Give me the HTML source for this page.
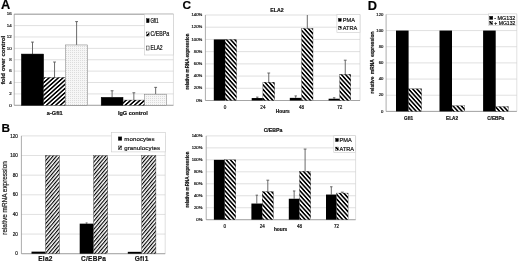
<!DOCTYPE html>
<html><head><meta charset="utf-8"><title>Figure</title>
<style>
html,body{margin:0;padding:0;background:#fff;}
body{width:520px;height:262px;overflow:hidden;font-family:"Liberation Sans",sans-serif;}
svg{display:block;font-family:"Liberation Sans",sans-serif;filter:blur(0.5px);}
text{stroke:#1a1a1a;stroke-width:0.2px;}
</style></head><body>
<svg width="520" height="262" viewBox="0 0 520 262">
<defs>
<pattern id="hA" width="3.1" height="3.1" patternUnits="userSpaceOnUse" patternTransform="rotate(-42)"><rect width="3.1" height="3.1" fill="#fff"/><rect width="3.1" height="1.55" fill="#000"/></pattern>
<pattern id="hB" width="2.7" height="2.7" patternUnits="userSpaceOnUse" patternTransform="rotate(-50)"><rect width="2.7" height="2.7" fill="#fff"/><rect width="2.7" height="1.13" fill="#000"/></pattern>
<pattern id="hC" width="3.1" height="3.1" patternUnits="userSpaceOnUse" patternTransform="rotate(48)"><rect width="3.1" height="3.1" fill="#fff"/><rect width="3.1" height="1.61" fill="#000"/></pattern>
<pattern id="dA" width="2" height="2" patternUnits="userSpaceOnUse"><rect width="2" height="2" fill="#f6f6f6"/><rect width="1" height="1" fill="#dcdcdc"/></pattern>
</defs>
<rect width="520" height="262" fill="#fff"/>

<text x="1.0" y="9.0" font-size="12.8" font-weight="bold" text-anchor="start" fill="#000" >A</text>
<text x="1.5" y="132.0" font-size="11.8" font-weight="bold" text-anchor="start" fill="#000" >B</text>
<text x="182.5" y="8.9" font-size="11.8" font-weight="bold" text-anchor="start" fill="#000" >C</text>
<text x="367.7" y="9.8" font-size="12.8" font-weight="bold" text-anchor="start" fill="#000" >D</text>
<line x1="14.20" y1="14.20" x2="173.40" y2="14.20" stroke="#cbcbcb" stroke-width="0.6"/>
<line x1="14.20" y1="25.59" x2="173.40" y2="25.59" stroke="#cbcbcb" stroke-width="0.6"/>
<line x1="14.20" y1="36.97" x2="173.40" y2="36.97" stroke="#cbcbcb" stroke-width="0.6"/>
<line x1="14.20" y1="48.36" x2="173.40" y2="48.36" stroke="#cbcbcb" stroke-width="0.6"/>
<line x1="14.20" y1="59.75" x2="173.40" y2="59.75" stroke="#cbcbcb" stroke-width="0.6"/>
<line x1="14.20" y1="71.14" x2="173.40" y2="71.14" stroke="#cbcbcb" stroke-width="0.6"/>
<line x1="14.20" y1="82.52" x2="173.40" y2="82.52" stroke="#cbcbcb" stroke-width="0.6"/>
<line x1="14.20" y1="93.91" x2="173.40" y2="93.91" stroke="#cbcbcb" stroke-width="0.6"/>
<line x1="14.20" y1="105.30" x2="173.40" y2="105.30" stroke="#cbcbcb" stroke-width="0.6"/>
<line x1="14.20" y1="14.20" x2="14.20" y2="105.30" stroke="#8a8a8a" stroke-width="0.7"/>
<line x1="173.40" y1="14.20" x2="173.40" y2="105.30" stroke="#cbcbcb" stroke-width="0.6"/>
<line x1="14.20" y1="105.30" x2="173.40" y2="105.30" stroke="#8a8a8a" stroke-width="0.7"/>
<line x1="14.20" y1="14.20" x2="173.40" y2="14.20" stroke="#8a8a8a" stroke-width="0.8"/>
<text x="11.6" y="15.399999999999999" font-size="4.4" font-weight="normal" text-anchor="end" fill="#222" >16</text>
<text x="11.6" y="26.787499999999998" font-size="4.4" font-weight="normal" text-anchor="end" fill="#222" >14</text>
<text x="11.6" y="38.175" font-size="4.4" font-weight="normal" text-anchor="end" fill="#222" >12</text>
<text x="11.6" y="49.5625" font-size="4.4" font-weight="normal" text-anchor="end" fill="#222" >10</text>
<text x="11.6" y="60.95" font-size="4.4" font-weight="normal" text-anchor="end" fill="#222" >8</text>
<text x="11.6" y="72.3375" font-size="4.4" font-weight="normal" text-anchor="end" fill="#222" >6</text>
<text x="11.6" y="83.725" font-size="4.4" font-weight="normal" text-anchor="end" fill="#222" >4</text>
<text x="11.6" y="95.1125" font-size="4.4" font-weight="normal" text-anchor="end" fill="#222" >2</text>
<text x="11.6" y="106.5" font-size="4.4" font-weight="normal" text-anchor="end" fill="#222" >0</text>
<text x="5.0" y="60" font-size="4.9" font-weight="bold" text-anchor="middle" fill="#111" transform="rotate(-90 5.0 60)" textLength="48.5" lengthAdjust="spacingAndGlyphs" stroke="none">fold over control</text>
<line x1="32.50" y1="42.10" x2="32.50" y2="54.06" stroke="#5a5a5a" stroke-width="0.9"/>
<line x1="31.10" y1="42.10" x2="33.90" y2="42.10" stroke="#5a5a5a" stroke-width="0.9"/>
<rect x="21.40" y="54.06" width="22.20" height="51.24" fill="#000" stroke="#000" stroke-width="0.5"/>
<line x1="54.55" y1="62.03" x2="54.55" y2="77.40" stroke="#5a5a5a" stroke-width="0.9"/>
<line x1="53.15" y1="62.03" x2="55.95" y2="62.03" stroke="#5a5a5a" stroke-width="0.9"/>
<rect x="43.60" y="77.40" width="21.90" height="27.90" fill="url(#hA)" stroke="#222" stroke-width="0.35"/>
<line x1="76.60" y1="21.60" x2="76.60" y2="44.95" stroke="#5a5a5a" stroke-width="0.9"/>
<line x1="75.20" y1="21.60" x2="78.00" y2="21.60" stroke="#5a5a5a" stroke-width="0.9"/>
<rect x="65.50" y="44.95" width="22.20" height="60.35" fill="url(#dA)" stroke="#777" stroke-width="0.5"/>
<line x1="112.10" y1="90.78" x2="112.10" y2="97.33" stroke="#5a5a5a" stroke-width="0.9"/>
<line x1="110.70" y1="90.78" x2="113.50" y2="90.78" stroke="#5a5a5a" stroke-width="0.9"/>
<rect x="101.20" y="97.33" width="21.80" height="7.97" fill="#000" stroke="#000" stroke-width="0.5"/>
<line x1="133.85" y1="92.77" x2="133.85" y2="100.06" stroke="#5a5a5a" stroke-width="0.9"/>
<line x1="132.45" y1="92.77" x2="135.25" y2="92.77" stroke="#5a5a5a" stroke-width="0.9"/>
<rect x="123.00" y="100.06" width="21.70" height="5.24" fill="url(#hA)" stroke="#222" stroke-width="0.35"/>
<line x1="155.65" y1="87.36" x2="155.65" y2="94.20" stroke="#5a5a5a" stroke-width="0.9"/>
<line x1="154.25" y1="87.36" x2="157.05" y2="87.36" stroke="#5a5a5a" stroke-width="0.9"/>
<rect x="144.70" y="94.20" width="21.90" height="11.10" fill="url(#dA)" stroke="#777" stroke-width="0.5"/>
<text x="54.8" y="115.2" font-size="5.6" font-weight="bold" text-anchor="middle" fill="#111" >a-Gfi1</text>
<text x="132.8" y="115.2" font-size="5.6" font-weight="bold" text-anchor="middle" fill="#111" >IgG control</text>
<rect x="144.50" y="14.20" width="28.90" height="40.80" fill="#fff" stroke="#cbcbcb" stroke-width="0.6"/>
<rect x="146.50" y="18.70" width="2.60" height="4.00" fill="#000" stroke="#000" stroke-width="0.4"/>
<text x="150.4" y="22.7" font-size="6.6" font-weight="normal" text-anchor="start" fill="#000" textLength="8.2" lengthAdjust="spacingAndGlyphs" stroke="#000" stroke-width="0.22">Gfi1</text>
<rect x="146.50" y="32.00" width="2.60" height="4.00" fill="url(#hA)" stroke="#000" stroke-width="0.4"/>
<text x="150.4" y="36.0" font-size="6.6" font-weight="normal" text-anchor="start" fill="#000" textLength="18.8" lengthAdjust="spacingAndGlyphs" stroke="#000" stroke-width="0.22">C/EBPa</text>
<rect x="146.50" y="46.00" width="2.60" height="4.00" fill="url(#dA)" stroke="#000" stroke-width="0.4"/>
<text x="150.4" y="50.0" font-size="6.6" font-weight="normal" text-anchor="start" fill="#000" textLength="12.2" lengthAdjust="spacingAndGlyphs" stroke="#000" stroke-width="0.22">ELA2</text>
<line x1="21.40" y1="135.90" x2="165.20" y2="135.90" stroke="#cbcbcb" stroke-width="0.6"/>
<line x1="21.40" y1="155.53" x2="165.20" y2="155.53" stroke="#cbcbcb" stroke-width="0.6"/>
<line x1="21.40" y1="175.17" x2="165.20" y2="175.17" stroke="#cbcbcb" stroke-width="0.6"/>
<line x1="21.40" y1="194.80" x2="165.20" y2="194.80" stroke="#cbcbcb" stroke-width="0.6"/>
<line x1="21.40" y1="214.43" x2="165.20" y2="214.43" stroke="#cbcbcb" stroke-width="0.6"/>
<line x1="21.40" y1="234.07" x2="165.20" y2="234.07" stroke="#cbcbcb" stroke-width="0.6"/>
<line x1="21.40" y1="253.70" x2="165.20" y2="253.70" stroke="#cbcbcb" stroke-width="0.6"/>
<line x1="21.40" y1="135.90" x2="21.40" y2="253.70" stroke="#8a8a8a" stroke-width="0.7"/>
<line x1="165.20" y1="135.90" x2="165.20" y2="253.70" stroke="#cbcbcb" stroke-width="0.6"/>
<line x1="21.40" y1="253.70" x2="165.20" y2="253.70" stroke="#8a8a8a" stroke-width="0.7"/>
<text x="17.9" y="137.5" font-size="4.6" font-weight="normal" text-anchor="end" fill="#222" >120</text>
<text x="17.9" y="157.13333333333333" font-size="4.6" font-weight="normal" text-anchor="end" fill="#222" >100</text>
<text x="17.9" y="176.76666666666665" font-size="4.6" font-weight="normal" text-anchor="end" fill="#222" >80</text>
<text x="17.9" y="196.4" font-size="4.6" font-weight="normal" text-anchor="end" fill="#222" >60</text>
<text x="17.9" y="216.03333333333333" font-size="4.6" font-weight="normal" text-anchor="end" fill="#222" >40</text>
<text x="17.9" y="235.66666666666666" font-size="4.6" font-weight="normal" text-anchor="end" fill="#222" >20</text>
<text x="17.9" y="255.29999999999998" font-size="4.6" font-weight="normal" text-anchor="end" fill="#222" >0</text>
<text x="6.5" y="198" font-size="6.4" font-weight="normal" text-anchor="middle" fill="#222" transform="rotate(-90 6.5 198)" textLength="73.5" lengthAdjust="spacingAndGlyphs" >relative mRNA expression</text>
<rect x="31.50" y="251.64" width="14.00" height="2.06" fill="#000" stroke="none" stroke-width="0.5"/>
<rect x="45.50" y="155.53" width="13.90" height="98.17" fill="url(#hB)" stroke="#333" stroke-width="0.4"/>
<text x="45.5" y="260.8" font-size="6.5" font-weight="bold" text-anchor="middle" fill="#111" letter-spacing="0.3">Ela2</text>
<rect x="79.70" y="223.66" width="13.90" height="30.04" fill="#000" stroke="none" stroke-width="0.5"/>
<rect x="93.60" y="155.53" width="14.10" height="98.17" fill="url(#hB)" stroke="#333" stroke-width="0.4"/>
<text x="93.6" y="260.8" font-size="6.5" font-weight="bold" text-anchor="middle" fill="#111" letter-spacing="0.3">C/EBPa</text>
<rect x="127.80" y="251.83" width="13.90" height="1.87" fill="#000" stroke="none" stroke-width="0.5"/>
<rect x="141.70" y="155.53" width="14.20" height="98.17" fill="url(#hB)" stroke="#333" stroke-width="0.4"/>
<text x="141.7" y="260.8" font-size="6.5" font-weight="bold" text-anchor="middle" fill="#111" letter-spacing="0.3">Gfi1</text>
<line x1="86.60" y1="222.88" x2="86.60" y2="223.66" stroke="#222" stroke-width="0.6"/>
<line x1="85.60" y1="222.88" x2="87.60" y2="222.88" stroke="#222" stroke-width="0.6"/>
<rect x="111.50" y="132.40" width="54.00" height="19.50" fill="#fff" stroke="#cbcbcb" stroke-width="0.6"/>
<rect x="118.30" y="136.90" width="3.50" height="3.40" fill="#000" stroke="#000" stroke-width="0.4"/>
<text x="124.2" y="140.7" font-size="6.1" font-weight="normal" text-anchor="start" fill="#111" letter-spacing="0.12">monocytes</text>
<rect x="118.30" y="146.00" width="3.50" height="3.40" fill="url(#hB)" stroke="#000" stroke-width="0.4"/>
<text x="124.2" y="149.79999999999998" font-size="6.1" font-weight="normal" text-anchor="start" fill="#111" letter-spacing="0.12">granulocytes</text>
<line x1="205.40" y1="15.00" x2="360.00" y2="15.00" stroke="#cbcbcb" stroke-width="0.6"/>
<line x1="205.40" y1="27.21" x2="360.00" y2="27.21" stroke="#cbcbcb" stroke-width="0.6"/>
<line x1="205.40" y1="39.43" x2="360.00" y2="39.43" stroke="#cbcbcb" stroke-width="0.6"/>
<line x1="205.40" y1="51.64" x2="360.00" y2="51.64" stroke="#cbcbcb" stroke-width="0.6"/>
<line x1="205.40" y1="63.86" x2="360.00" y2="63.86" stroke="#cbcbcb" stroke-width="0.6"/>
<line x1="205.40" y1="76.07" x2="360.00" y2="76.07" stroke="#cbcbcb" stroke-width="0.6"/>
<line x1="205.40" y1="88.29" x2="360.00" y2="88.29" stroke="#cbcbcb" stroke-width="0.6"/>
<line x1="205.40" y1="100.50" x2="360.00" y2="100.50" stroke="#cbcbcb" stroke-width="0.6"/>
<line x1="205.40" y1="15.00" x2="205.40" y2="100.50" stroke="#8a8a8a" stroke-width="0.7"/>
<line x1="360.00" y1="15.00" x2="360.00" y2="100.50" stroke="#cbcbcb" stroke-width="0.6"/>
<line x1="205.40" y1="100.50" x2="360.00" y2="100.50" stroke="#8a8a8a" stroke-width="0.7"/>
<text x="202.2" y="16.1" font-size="4.2" font-weight="normal" text-anchor="end" fill="#222" >140%</text>
<text x="202.2" y="28.314285714285717" font-size="4.2" font-weight="normal" text-anchor="end" fill="#222" >120%</text>
<text x="202.2" y="40.52857142857143" font-size="4.2" font-weight="normal" text-anchor="end" fill="#222" >100%</text>
<text x="202.2" y="52.74285714285715" font-size="4.2" font-weight="normal" text-anchor="end" fill="#222" >80%</text>
<text x="202.2" y="64.95714285714286" font-size="4.2" font-weight="normal" text-anchor="end" fill="#222" >60%</text>
<text x="202.2" y="77.17142857142856" font-size="4.2" font-weight="normal" text-anchor="end" fill="#222" >40%</text>
<text x="202.2" y="89.38571428571429" font-size="4.2" font-weight="normal" text-anchor="end" fill="#222" >20%</text>
<text x="202.2" y="101.6" font-size="4.2" font-weight="normal" text-anchor="end" fill="#222" >0%</text>
<text x="188.6" y="61.5" font-size="4.5" font-weight="bold" text-anchor="middle" fill="#111" transform="rotate(-90 188.6 61.5)" textLength="56" lengthAdjust="spacingAndGlyphs" stroke="none">relative mRNA expression</text>
<text x="277" y="12.1" font-size="5.2" font-weight="bold" text-anchor="middle" fill="#111" >ELA2</text>
<rect x="213.80" y="39.43" width="11.30" height="61.07" fill="#000" stroke="none" stroke-width="0.5"/>
<rect x="225.10" y="39.43" width="11.50" height="61.07" fill="url(#hC)" stroke="#222" stroke-width="0.3"/>
<text x="225.1" y="108.6" font-size="4.6" font-weight="normal" text-anchor="middle" fill="#222" >0</text>
<line x1="257.30" y1="97.14" x2="257.30" y2="98.06" stroke="#5a5a5a" stroke-width="0.9"/>
<line x1="256.10" y1="97.14" x2="258.50" y2="97.14" stroke="#5a5a5a" stroke-width="0.9"/>
<line x1="268.75" y1="73.02" x2="268.75" y2="82.18" stroke="#5a5a5a" stroke-width="0.9"/>
<line x1="267.35" y1="73.02" x2="270.15" y2="73.02" stroke="#5a5a5a" stroke-width="0.9"/>
<rect x="251.70" y="98.06" width="11.20" height="2.44" fill="#000" stroke="none" stroke-width="0.5"/>
<rect x="262.90" y="82.18" width="11.70" height="18.32" fill="url(#hC)" stroke="#222" stroke-width="0.3"/>
<text x="262.9" y="108.6" font-size="4.6" font-weight="normal" text-anchor="middle" fill="#222" >24</text>
<line x1="295.70" y1="95.92" x2="295.70" y2="97.87" stroke="#5a5a5a" stroke-width="0.9"/>
<line x1="294.50" y1="95.92" x2="296.90" y2="95.92" stroke="#5a5a5a" stroke-width="0.9"/>
<line x1="307.30" y1="15.00" x2="307.30" y2="28.44" stroke="#5a5a5a" stroke-width="0.9"/>
<line x1="307.30" y1="15.00" x2="307.30" y2="15.00" stroke="#5a5a5a" stroke-width="0.9"/>
<rect x="289.80" y="97.87" width="11.80" height="2.63" fill="#000" stroke="none" stroke-width="0.5"/>
<rect x="301.60" y="28.44" width="11.40" height="72.06" fill="url(#hC)" stroke="#222" stroke-width="0.3"/>
<text x="301.6" y="108.6" font-size="4.6" font-weight="normal" text-anchor="middle" fill="#222" >48</text>
<line x1="334.15" y1="97.75" x2="334.15" y2="98.73" stroke="#5a5a5a" stroke-width="0.9"/>
<line x1="332.95" y1="97.75" x2="335.35" y2="97.75" stroke="#5a5a5a" stroke-width="0.9"/>
<line x1="345.25" y1="60.19" x2="345.25" y2="74.24" stroke="#5a5a5a" stroke-width="0.9"/>
<line x1="343.85" y1="60.19" x2="346.65" y2="60.19" stroke="#5a5a5a" stroke-width="0.9"/>
<rect x="328.60" y="98.73" width="11.10" height="1.77" fill="#000" stroke="none" stroke-width="0.5"/>
<rect x="339.70" y="74.24" width="11.10" height="26.26" fill="url(#hC)" stroke="#222" stroke-width="0.3"/>
<text x="339.7" y="108.6" font-size="4.6" font-weight="normal" text-anchor="middle" fill="#222" >72</text>
<text x="282.8" y="112.8" font-size="4.8" font-weight="bold" text-anchor="middle" fill="#111" >Hours</text>
<rect x="336.90" y="14.30" width="23.10" height="18.30" fill="#fff" stroke="#cbcbcb" stroke-width="0.6"/>
<rect x="338.40" y="18.50" width="2.80" height="2.80" fill="#000" stroke="#000" stroke-width="0.4"/>
<text x="342.8" y="21.9" font-size="5.6" font-weight="normal" text-anchor="start" fill="#111" >PMA</text>
<rect x="338.40" y="26.40" width="2.80" height="2.80" fill="url(#hC)" stroke="#000" stroke-width="0.4"/>
<text x="342.8" y="29.8" font-size="5.6" font-weight="normal" text-anchor="start" fill="#111" >ATRA</text>
<line x1="206.20" y1="135.90" x2="355.60" y2="135.90" stroke="#cbcbcb" stroke-width="0.6"/>
<line x1="206.20" y1="147.87" x2="355.60" y2="147.87" stroke="#cbcbcb" stroke-width="0.6"/>
<line x1="206.20" y1="159.84" x2="355.60" y2="159.84" stroke="#cbcbcb" stroke-width="0.6"/>
<line x1="206.20" y1="171.81" x2="355.60" y2="171.81" stroke="#cbcbcb" stroke-width="0.6"/>
<line x1="206.20" y1="183.79" x2="355.60" y2="183.79" stroke="#cbcbcb" stroke-width="0.6"/>
<line x1="206.20" y1="195.76" x2="355.60" y2="195.76" stroke="#cbcbcb" stroke-width="0.6"/>
<line x1="206.20" y1="207.73" x2="355.60" y2="207.73" stroke="#cbcbcb" stroke-width="0.6"/>
<line x1="206.20" y1="219.70" x2="355.60" y2="219.70" stroke="#cbcbcb" stroke-width="0.6"/>
<line x1="206.20" y1="135.90" x2="206.20" y2="219.70" stroke="#8a8a8a" stroke-width="0.7"/>
<line x1="355.60" y1="135.90" x2="355.60" y2="219.70" stroke="#cbcbcb" stroke-width="0.6"/>
<line x1="206.20" y1="219.70" x2="355.60" y2="219.70" stroke="#8a8a8a" stroke-width="0.7"/>
<text x="202.4" y="137.0" font-size="4.2" font-weight="normal" text-anchor="end" fill="#222" >140%</text>
<text x="202.4" y="148.97142857142856" font-size="4.2" font-weight="normal" text-anchor="end" fill="#222" >120%</text>
<text x="202.4" y="160.94285714285715" font-size="4.2" font-weight="normal" text-anchor="end" fill="#222" >100%</text>
<text x="202.4" y="172.9142857142857" font-size="4.2" font-weight="normal" text-anchor="end" fill="#222" >80%</text>
<text x="202.4" y="184.88571428571427" font-size="4.2" font-weight="normal" text-anchor="end" fill="#222" >60%</text>
<text x="202.4" y="196.85714285714283" font-size="4.2" font-weight="normal" text-anchor="end" fill="#222" >40%</text>
<text x="202.4" y="208.8285714285714" font-size="4.2" font-weight="normal" text-anchor="end" fill="#222" >20%</text>
<text x="202.4" y="220.79999999999998" font-size="4.2" font-weight="normal" text-anchor="end" fill="#222" >0%</text>
<text x="189.2" y="179.5" font-size="4.5" font-weight="bold" text-anchor="middle" fill="#111" transform="rotate(-90 189.2 179.5)" textLength="56" lengthAdjust="spacingAndGlyphs" stroke="none">relative mRNA expression</text>
<text x="273" y="131.8" font-size="5.2" font-weight="bold" text-anchor="middle" fill="#111" >C/EBPa</text>
<rect x="213.90" y="159.84" width="10.90" height="59.86" fill="#000" stroke="none" stroke-width="0.5"/>
<rect x="224.80" y="159.84" width="11.00" height="59.86" fill="url(#hC)" stroke="#222" stroke-width="0.3"/>
<text x="224.8" y="227.6" font-size="4.6" font-weight="normal" text-anchor="middle" fill="#222" >0</text>
<line x1="256.80" y1="195.16" x2="256.80" y2="203.54" stroke="#5a5a5a" stroke-width="0.9"/>
<line x1="255.60" y1="195.16" x2="258.00" y2="195.16" stroke="#5a5a5a" stroke-width="0.9"/>
<line x1="267.80" y1="180.19" x2="267.80" y2="191.57" stroke="#5a5a5a" stroke-width="0.9"/>
<line x1="266.40" y1="180.19" x2="269.20" y2="180.19" stroke="#5a5a5a" stroke-width="0.9"/>
<rect x="251.40" y="203.54" width="10.80" height="16.16" fill="#000" stroke="none" stroke-width="0.5"/>
<rect x="262.20" y="191.57" width="11.20" height="28.13" fill="url(#hC)" stroke="#222" stroke-width="0.3"/>
<text x="262.2" y="227.6" font-size="4.6" font-weight="normal" text-anchor="middle" fill="#222" >24</text>
<line x1="294.15" y1="190.97" x2="294.15" y2="198.75" stroke="#5a5a5a" stroke-width="0.9"/>
<line x1="292.95" y1="190.97" x2="295.35" y2="190.97" stroke="#5a5a5a" stroke-width="0.9"/>
<line x1="305.10" y1="149.07" x2="305.10" y2="171.22" stroke="#5a5a5a" stroke-width="0.9"/>
<line x1="303.70" y1="149.07" x2="306.50" y2="149.07" stroke="#5a5a5a" stroke-width="0.9"/>
<rect x="288.80" y="198.75" width="10.70" height="20.95" fill="#000" stroke="none" stroke-width="0.5"/>
<rect x="299.50" y="171.22" width="11.20" height="48.48" fill="url(#hC)" stroke="#222" stroke-width="0.3"/>
<text x="299.5" y="227.6" font-size="4.6" font-weight="normal" text-anchor="middle" fill="#222" >48</text>
<line x1="331.30" y1="186.78" x2="331.30" y2="194.56" stroke="#5a5a5a" stroke-width="0.9"/>
<line x1="330.10" y1="186.78" x2="332.50" y2="186.78" stroke="#5a5a5a" stroke-width="0.9"/>
<line x1="342.35" y1="192.17" x2="342.35" y2="193.06" stroke="#5a5a5a" stroke-width="0.9"/>
<line x1="340.95" y1="192.17" x2="343.75" y2="192.17" stroke="#5a5a5a" stroke-width="0.9"/>
<rect x="326.00" y="194.56" width="10.60" height="25.14" fill="#000" stroke="none" stroke-width="0.5"/>
<rect x="336.60" y="193.06" width="11.50" height="26.64" fill="url(#hC)" stroke="#222" stroke-width="0.3"/>
<text x="336.6" y="227.6" font-size="4.6" font-weight="normal" text-anchor="middle" fill="#222" >72</text>
<text x="280.6" y="231.0" font-size="4.8" font-weight="bold" text-anchor="middle" fill="#111" >hours</text>
<rect x="333.80" y="135.70" width="21.60" height="16.80" fill="#fff" stroke="#cbcbcb" stroke-width="0.6"/>
<rect x="335.60" y="138.40" width="2.80" height="3.10" fill="#000" stroke="#000" stroke-width="0.4"/>
<text x="339.6" y="141.9" font-size="5.6" font-weight="normal" text-anchor="start" fill="#111" >PMA</text>
<rect x="335.60" y="147.10" width="2.80" height="3.10" fill="url(#hC)" stroke="#000" stroke-width="0.4"/>
<text x="339.6" y="150.6" font-size="5.6" font-weight="normal" text-anchor="start" fill="#111" >ATRA</text>
<line x1="386.10" y1="14.40" x2="516.80" y2="14.40" stroke="#cbcbcb" stroke-width="0.6"/>
<line x1="386.10" y1="30.57" x2="516.80" y2="30.57" stroke="#cbcbcb" stroke-width="0.6"/>
<line x1="386.10" y1="46.73" x2="516.80" y2="46.73" stroke="#cbcbcb" stroke-width="0.6"/>
<line x1="386.10" y1="62.90" x2="516.80" y2="62.90" stroke="#cbcbcb" stroke-width="0.6"/>
<line x1="386.10" y1="79.07" x2="516.80" y2="79.07" stroke="#cbcbcb" stroke-width="0.6"/>
<line x1="386.10" y1="95.23" x2="516.80" y2="95.23" stroke="#cbcbcb" stroke-width="0.6"/>
<line x1="386.10" y1="111.40" x2="516.80" y2="111.40" stroke="#cbcbcb" stroke-width="0.6"/>
<line x1="386.10" y1="14.40" x2="386.10" y2="111.40" stroke="#8a8a8a" stroke-width="0.7"/>
<line x1="516.80" y1="14.40" x2="516.80" y2="111.40" stroke="#cbcbcb" stroke-width="0.6"/>
<line x1="386.10" y1="111.40" x2="516.80" y2="111.40" stroke="#8a8a8a" stroke-width="0.7"/>
<text x="383.3" y="15.6" font-size="4.2" font-weight="normal" text-anchor="end" fill="#222" >120</text>
<text x="383.3" y="31.76666666666667" font-size="4.2" font-weight="normal" text-anchor="end" fill="#222" >100</text>
<text x="383.3" y="47.93333333333334" font-size="4.2" font-weight="normal" text-anchor="end" fill="#222" >80</text>
<text x="383.3" y="64.1" font-size="4.2" font-weight="normal" text-anchor="end" fill="#222" >60</text>
<text x="383.3" y="80.26666666666668" font-size="4.2" font-weight="normal" text-anchor="end" fill="#222" >40</text>
<text x="383.3" y="96.43333333333334" font-size="4.2" font-weight="normal" text-anchor="end" fill="#222" >20</text>
<text x="383.3" y="112.60000000000001" font-size="4.2" font-weight="normal" text-anchor="end" fill="#222" >0</text>
<text x="374.3" y="62.5" font-size="4.5" font-weight="bold" text-anchor="middle" fill="#111" transform="rotate(-90 374.3 62.5)" textLength="62" lengthAdjust="spacingAndGlyphs" word-spacing="1" stroke="none">relative mRNA expression</text>
<rect x="396.00" y="30.57" width="12.60" height="80.83" fill="#000" stroke="none" stroke-width="0.5"/>
<rect x="408.60" y="88.77" width="13.00" height="22.63" fill="url(#hC)" stroke="#222" stroke-width="0.3"/>
<text x="408.6" y="120.0" font-size="4.7" font-weight="bold" text-anchor="middle" fill="#111" >Gfi1</text>
<rect x="439.50" y="30.57" width="12.50" height="80.83" fill="#000" stroke="none" stroke-width="0.5"/>
<rect x="452.00" y="105.74" width="12.80" height="5.66" fill="url(#hC)" stroke="#222" stroke-width="0.3"/>
<text x="452" y="120.0" font-size="4.7" font-weight="bold" text-anchor="middle" fill="#111" >ELA2</text>
<rect x="483.10" y="30.57" width="12.60" height="80.83" fill="#000" stroke="none" stroke-width="0.5"/>
<rect x="495.70" y="106.55" width="12.60" height="4.85" fill="url(#hC)" stroke="#222" stroke-width="0.3"/>
<text x="495.7" y="120.0" font-size="4.7" font-weight="bold" text-anchor="middle" fill="#111" >C/EBPa</text>
<rect x="488.30" y="13.90" width="28.50" height="11.60" fill="#fff" stroke="#cbcbcb" stroke-width="0.6"/>
<rect x="489.60" y="16.30" width="3.20" height="3.10" fill="#000" stroke="#000" stroke-width="0.4"/>
<text x="494.3" y="19.6" font-size="5.0" font-weight="normal" text-anchor="start" fill="#000" textLength="21" lengthAdjust="spacingAndGlyphs" >- MG132</text>
<rect x="489.60" y="21.20" width="3.20" height="3.10" fill="url(#hC)" stroke="#000" stroke-width="0.4"/>
<text x="494.3" y="24.5" font-size="5.0" font-weight="normal" text-anchor="start" fill="#000" textLength="21" lengthAdjust="spacingAndGlyphs" >+ MG132</text>
</svg></body></html>
